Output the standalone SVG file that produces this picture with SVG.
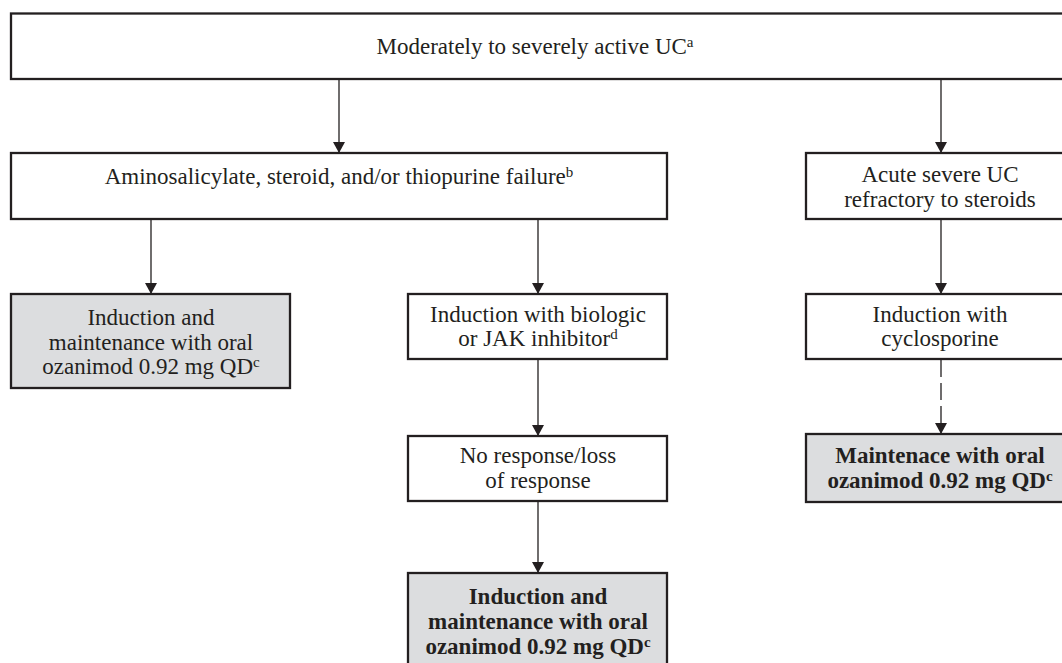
<svg xmlns="http://www.w3.org/2000/svg" width="1062" height="663" viewBox="0 0 1062 663">
<defs>
<style>
.box{fill:#ffffff;stroke:#231f20;stroke-width:2.3}
.gray{fill:#dcdddf;stroke:#231f20;stroke-width:2.3}
.t{font-family:"Liberation Serif","Times New Roman",serif;font-size:23px;fill:#231f20;text-anchor:middle}
.b{font-weight:bold}
.sup{font-size:15px}
.con{stroke:#231f20;stroke-width:1.3;fill:none}
.dash{stroke-dasharray:17 6}
</style>
<marker id="ah" markerUnits="userSpaceOnUse" markerWidth="11" markerHeight="12" refX="11" refY="6" orient="auto">
<path d="M0,0 L11,6 L0,12 z" fill="#231f20"/>
</marker>
</defs>
<rect width="1062" height="663" fill="#ffffff"/>
<g id="connectors">
<line class="con" x1="339" y1="79" x2="339" y2="153" marker-end="url(#ah)"/>
<line class="con" x1="941" y1="79" x2="941" y2="153" marker-end="url(#ah)"/>
<line class="con" x1="151" y1="219" x2="151" y2="294" marker-end="url(#ah)"/>
<line class="con" x1="538" y1="219" x2="538" y2="294" marker-end="url(#ah)"/>
<line class="con" x1="941" y1="219" x2="941" y2="294" marker-end="url(#ah)"/>
<line class="con" x1="538" y1="359" x2="538" y2="436" marker-end="url(#ah)"/>
<line class="con dash" x1="941" y1="360" x2="941" y2="434" marker-end="url(#ah)"/>
<line class="con" x1="538" y1="501" x2="538" y2="573" marker-end="url(#ah)"/>
</g>
<g id="n-top">
<rect class="box" x="11" y="13.5" width="1065" height="65.5"/>
<text class="t" x="535" y="54">Moderately to severely active UC<tspan class="sup" dy="-7">a</tspan></text>
</g>
<g id="n-failure">
<rect class="box" x="11" y="153" width="656" height="66"/>
<text class="t" x="339" y="184">Aminosalicylate, steroid, and/or thiopurine failure<tspan class="sup" dy="-7">b</tspan></text>
</g>
<g id="n-acute">
<rect class="box" x="806" y="153" width="270" height="66"/>
<text class="t" x="940" y="182">Acute severe UC</text>
<text class="t" x="940" y="206.5">refractory to steroids</text>
</g>
<g id="n-ozanimod-left">
<rect class="gray" x="11" y="294" width="279" height="94"/>
<text class="t" x="151" y="325">Induction and</text>
<text class="t" x="151" y="349.5">maintenance with oral</text>
<text class="t" x="151" y="374">ozanimod 0.92 mg QD<tspan class="sup" dy="-7">c</tspan></text>
</g>
<g id="n-biologic">
<rect class="box" x="408" y="294" width="259" height="65"/>
<text class="t" x="538" y="321.5">Induction with biologic</text>
<text class="t" x="538" y="345.5">or JAK inhibitor<tspan class="sup" dy="-7">d</tspan></text>
</g>
<g id="n-cyclosporine">
<rect class="box" x="806" y="294" width="270" height="65"/>
<text class="t" x="940" y="321.5">Induction with</text>
<text class="t" x="940" y="345.5">cyclosporine</text>
</g>
<g id="n-noresponse">
<rect class="box" x="408" y="436" width="259" height="65"/>
<text class="t" x="538" y="463">No response/loss</text>
<text class="t" x="538" y="487.5">of response</text>
</g>
<g id="n-maintenance-right">
<rect class="gray" x="806" y="434" width="270" height="68"/>
<text class="t b" x="940" y="463">Maintenace with oral</text>
<text class="t b" x="940" y="488">ozanimod 0.92 mg QD<tspan class="sup" dy="-7">c</tspan></text>
</g>
<g id="n-ozanimod-bottom">
<rect class="gray" x="408" y="573" width="259" height="110"/>
<text class="t b" x="538" y="603.5">Induction and</text>
<text class="t b" x="538" y="628.5">maintenance with oral</text>
<text class="t b" x="538" y="653.5">ozanimod 0.92 mg QD<tspan class="sup" dy="-7">c</tspan></text>
</g>
</svg>
